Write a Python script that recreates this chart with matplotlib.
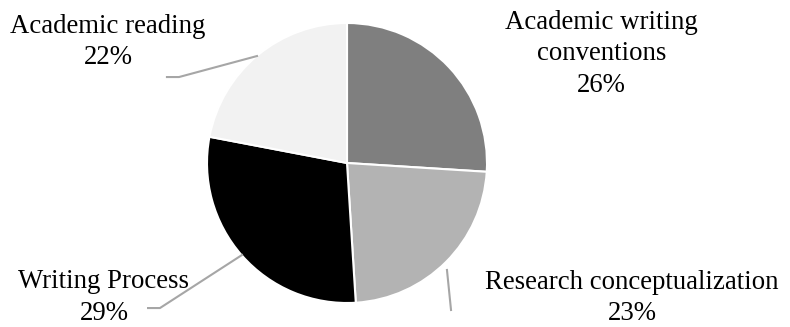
import matplotlib
matplotlib.use('Agg')
import matplotlib.pyplot as plt

# dados
categorias = ['Academic writing conventions', 'Research conceptualization',
              'Writing Process', 'Academic reading']
percentuais = [26, 23, 29, 22]
rotulos = ['Academic writing\nconventions\n26%', 'Research conceptualization\n23%',
           'Writing Process\n29%', 'Academic reading\n22%']
cores = ['#7f7f7f', '#b3b3b3', '#000000', '#f2f2f2']

plt.rcParams['font.family'] = ['Liberation Serif', 'DejaVu Serif']

fig = plt.figure(figsize=(7.9, 3.27), dpi=100)
W, H = 790, 327
cx, cy, r = 347, 163, 140
ax = fig.add_axes([(cx - r) / W, (H - cy - r) / H, 2 * r / W, 2 * r / H])

ax.pie(percentuais, colors=cores, startangle=90, counterclock=False,
       radius=1, wedgeprops=dict(edgecolor='white', linewidth=1.5))
ax.set_xlim(-1, 1)
ax.set_ylim(-1, 1)
ax.set_aspect('equal')
ax.axis('off')

# posicoes dos rotulos (coordenadas do eixo, raio = 1)
pos_rotulos = [(1.82, 0.78), (2.036, -0.965), (-1.736, -0.96), (-1.707, 0.864)]
linhas = [None,
          [(0.714, -0.764), (0.743, -1.05)],
          [(-0.75, -0.657), (-1.336, -1.036), (-1.421, -1.036)],
          [(-0.643, 0.764), (-1.2, 0.614), (-1.286, 0.614)]]

for txt, (x, y), ln in zip(rotulos, pos_rotulos, linhas):
    ax.text(x, y, txt, ha='center', va='center', fontsize=19.3,
            linespacing=1.35, clip_on=False)
    if ln:
        xs, ys = zip(*ln)
        ax.plot(xs, ys, color='#a6a6a6', lw=1.5, clip_on=False)

plt.savefig('out.png', dpi=100)
plt.close()
